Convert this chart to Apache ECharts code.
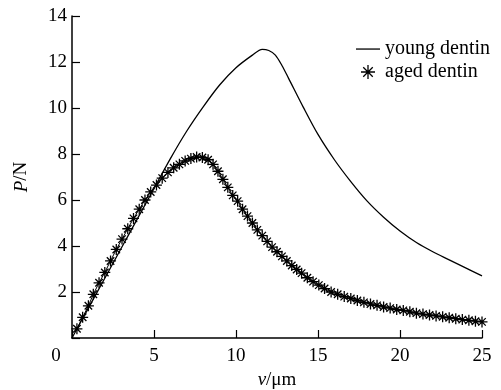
<!DOCTYPE html>
<html><head><meta charset="utf-8">
<script src="https://cdn.jsdelivr.net/npm/echarts@6/dist/echarts.min.js"></script>
<style>html,body{margin:0;padding:0;background:#fff}#c{width:501px;height:390px}</style>
</head><body><div id="c"></div>
<script>
var youngX = [0, 1, 2, 3, 4, 5, 6, 7, 8, 9, 10, 11, 11.6, 12.0, 12.4, 12.8, 13.2, 14.1, 15, 16, 17, 18, 19, 20, 21, 22, 23, 24, 25];
var youngY = [0, 1.3, 2.6, 3.9, 5.2, 6.5, 7.8, 9.0, 10.05, 11.0, 11.75, 12.3, 12.55, 12.5, 12.3, 11.85, 11.3, 10.04, 8.85, 7.75, 6.8, 5.95, 5.25, 4.65, 4.15, 3.75, 3.4, 3.05, 2.7];
var agedX = [0.3, 0.65, 1.0, 1.3, 1.65, 2.0, 2.35, 2.7, 3.05, 3.4, 3.75, 4.1, 4.45, 4.8, 5.15, 5.5, 5.85, 6.2, 6.55, 6.9, 7.25, 7.6, 7.95, 8.3, 8.6, 8.9, 9.2, 9.5, 9.8, 10.1, 10.4, 10.7, 11.0, 11.3, 11.6, 11.9, 12.2, 12.5, 12.8, 13.1, 13.4, 13.7, 14.0, 14.35, 14.7, 15.05, 15.4, 15.8, 16.2, 16.6, 17.0, 17.4, 17.8, 18.2, 18.6, 19.0, 19.4, 19.8, 20.2, 20.6, 21.0, 21.4, 21.8, 22.2, 22.6, 23.0, 23.4, 23.8, 24.2, 24.6, 25.0];
var agedY = [0.4, 0.9, 1.4, 1.9, 2.4, 2.85, 3.35, 3.85, 4.3, 4.75, 5.2, 5.6, 6.0, 6.35, 6.65, 6.95, 7.2, 7.4, 7.55, 7.7, 7.8, 7.87, 7.85, 7.75, 7.55, 7.25, 6.9, 6.55, 6.2, 5.95, 5.6, 5.3, 5.0, 4.7, 4.45, 4.2, 3.95, 3.75, 3.55, 3.35, 3.15, 2.98, 2.82, 2.62, 2.45, 2.3, 2.15, 2.0, 1.9, 1.8, 1.72, 1.63, 1.55, 1.48, 1.42, 1.35, 1.3, 1.24, 1.2, 1.14, 1.08, 1.04, 1.0, 0.96, 0.92, 0.88, 0.84, 0.8, 0.77, 0.73, 0.7];
var seriesNames = ['young dentin', 'aged dentin'];

function pairs(xs, ys) { return xs.map(function (x, i) { return [x, ys[i]]; }); }
var starPath = 'path://M5,0L5,10M0,5L10,5M1.6,1.6L8.4,8.4M8.4,1.6L1.6,8.4';
var linePath = 'path://M0,0L0,0M0,14L0,14M0,6.4H24V7.7H0Z';
var font = 'Liberation Serif';

var chart = echarts.init(document.getElementById('c'), null, {renderer: 'canvas'});
chart.setOption({
  animation: false,
  backgroundColor: '#fff',
  grid: {left: 72, right: 19, top: 16, bottom: 52, containLabel: false, outerBoundsMode: 'none'},
  legend: {
    left: 351, top: 34, orient: 'vertical', itemGap: 3, itemWidth: 24, itemHeight: 14,
    textStyle: {fontFamily: font, fontSize: 20, color: '#000', padding: [0, 0, 0, 0]},
    data: [
      {name: seriesNames[0], icon: linePath, itemStyle: {color: '#000', borderWidth: 0}},
      {name: seriesNames[1], icon: starPath, itemStyle: {color: '#000', borderColor: '#000', borderWidth: 1.3}}
    ]
  },
  xAxis: {
    type: 'value', min: 0, max: 25, interval: 5,
    name: '{i|v}/μm', nameLocation: 'middle', nameGap: 29,
    nameTextStyle: {fontFamily: font, fontSize: 19, color: '#000',
      rich: {i: {fontFamily: font, fontStyle: 'italic', fontSize: 19, color: '#000'}}},
    axisLine: {lineStyle: {color: '#000', width: 1.5}},
    axisTick: {inside: true, length: 8, lineStyle: {color: '#000', width: 1.2}},
    axisLabel: {fontFamily: font, fontSize: 19, color: '#000', margin: 9,
      formatter: function (v) { return v === 0 ? '{z|0}' : String(v); },
      rich: {z: {fontFamily: font, fontSize: 19, color: '#000', padding: [0, 32, 0, 0]}}},
    splitLine: {show: false}
  },
  yAxis: {
    type: 'value', min: 0, max: 14, interval: 2,
    name: '{i|P}/N', nameLocation: 'middle', nameGap: 41, nameRotate: 90,
    nameTextStyle: {fontFamily: font, fontSize: 19, color: '#000',
      rich: {i: {fontFamily: font, fontStyle: 'italic', fontSize: 19, color: '#000'}}},
    axisLine: {show: true, lineStyle: {color: '#000', width: 1.5}},
    axisTick: {show: true, inside: true, length: 8, lineStyle: {color: '#000', width: 1.2}},
    axisLabel: {fontFamily: font, fontSize: 19, color: '#000', margin: 5,
      formatter: function (v) { return v === 0 ? '' : String(v); }},
    splitLine: {show: false}
  },
  series: [
    {
      name: seriesNames[0], type: 'line', data: pairs(youngX, youngY),
      showSymbol: false, symbol: 'none', smooth: 0.3,
      lineStyle: {color: '#000', width: 1.3}, itemStyle: {color: '#000'}, z: 2
    },
    {
      name: seriesNames[1], type: 'line', data: pairs(agedX, agedY),
      symbol: starPath, symbolSize: 11, showAllSymbol: true,
      lineStyle: {color: '#000', width: 1},
      itemStyle: {color: '#000', borderColor: '#000', borderWidth: 1.3}, z: 3
    }
  ]
});
</script></body></html>
